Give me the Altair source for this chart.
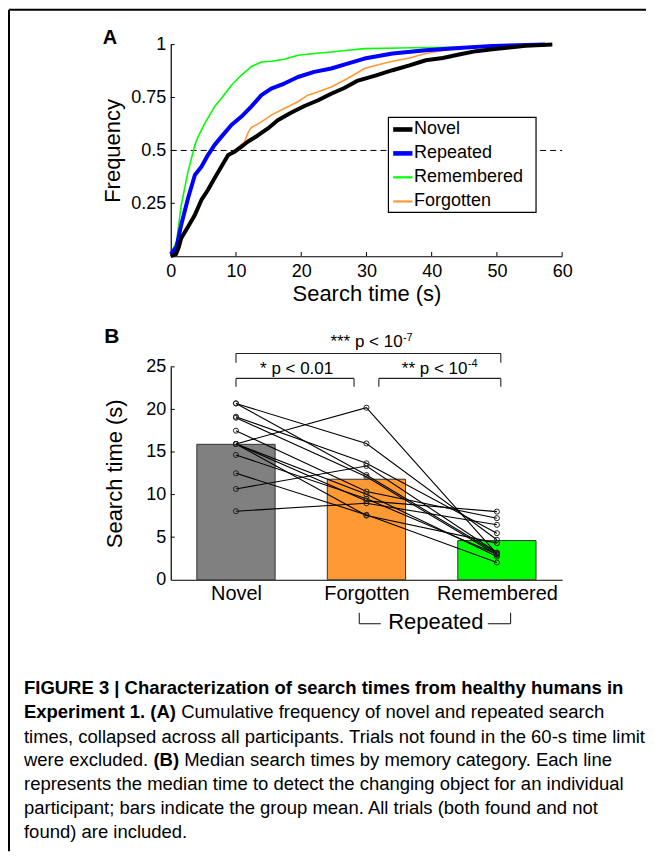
import altair as alt
import pandas as pd

# ---------------- Panel A data: cumulative frequency curves ----------------
series_names = ["Novel", "Repeated", "Remembered", "Forgotten"]

novel_t = [0, 0.8, 1.2, 1.6, 2.65, 3.7, 4.7, 5.7, 6.7, 7.75, 8.8, 9.8, 10.8, 11.8, 13.4, 14.9,
           16.4, 18.5, 20.5, 22.6, 24.6, 26.6, 28.7, 31.5, 34.0, 36.6, 39.1, 41.7, 44.2, 46.8,
           49.3, 51.9, 54.4, 58.5]
novel_f = [0.0, 0.01, 0.04, 0.085, 0.14, 0.195, 0.266, 0.313, 0.368, 0.423, 0.478, 0.494, 0.517,
           0.541, 0.572, 0.604, 0.643, 0.679, 0.71, 0.737, 0.768, 0.795, 0.83, 0.855, 0.879, 0.902,
           0.926, 0.937, 0.953, 0.969, 0.978, 0.986, 0.994, 1.0]

repeated_t = [0, 0.9, 1.6, 2.65, 3.7, 4.7, 5.7, 6.7, 7.75, 9.3, 10.8, 12.3, 13.9, 15.4, 17.4, 19.5,
              22.0, 24.6, 27.1, 29.7, 34.0, 39.1, 44.2, 49.3, 57.4]
repeated_f = [0.01, 0.045, 0.148, 0.274, 0.384, 0.423, 0.478, 0.525, 0.564, 0.62, 0.659, 0.706,
              0.761, 0.792, 0.816, 0.847, 0.871, 0.887, 0.91, 0.934, 0.958, 0.973, 0.984, 0.994, 1.0]

remembered_t = [0, 0.9, 1.6, 2.65, 3.7, 4.2, 5.2, 6.7, 7.75, 9.3, 10.8, 12.3, 13.9, 15.4, 17.4,
                19.5, 22.0, 24.6, 27.1, 29.7, 35, 40, 45, 50, 57]
remembered_f = [0.01, 0.07, 0.24, 0.40, 0.525, 0.565, 0.627, 0.706, 0.745, 0.808, 0.855, 0.895,
                0.918, 0.921, 0.931, 0.95, 0.958, 0.965, 0.973, 0.981, 0.984, 0.986, 0.989, 0.994, 1.0]

forgotten_t = [0, 1.0, 1.6, 2.65, 3.7, 4.7, 6.7, 8.8, 9.8, 11.3, 11.8, 12.3, 13.9, 15.4, 17.4, 19.5,
               21.0, 22.6, 24.6, 27.1, 29.7, 31.5, 34.0, 36.6, 39.1, 40.6, 44.2, 49.3, 57.4]
forgotten_f = [0.0, 0.03, 0.077, 0.14, 0.21, 0.266, 0.376, 0.47, 0.50, 0.54, 0.58, 0.607, 0.635,
               0.667, 0.698, 0.73, 0.761, 0.777, 0.80, 0.84, 0.887, 0.902, 0.921, 0.937, 0.958,
               0.966, 0.984, 0.994, 1.0]

x_ticks_a = [0, 10, 20, 30, 40, 50, 60]
y_ticks_a = [0.25, 0.5, 0.75, 1]
threshold = 0.5

# ---------------- Panel B data: median search times ----------------
categories = ["Novel", "Forgotten", "Remembered"]
group_means = [15.9, 11.8, 4.6]
novel_med = [20.7, 20.7, 19.14, 19.02, 17.5, 15.94, 15.94, 15.94, 15.94, 14.65, 12.5, 10.66, 8.05]
forgotten_med = [16.0, 12.3, 13.67, 12.1, 10.35, 20.2, 10.04, 9.26, 7.54, 9.5, 7.62, 13.36, 8.98]
remembered_med = [4.69, 3.12, 5.47, 2.93, 7.23, 3.05, 2.73, 8.0, 4.3, 3.0, 2.03, 3.2, 6.45]
y_ticks_b = [0, 5, 10, 15, 20, 25]

sig_labels = ["* p < 0.01", "** p < 10", "*** p < 10"]
sig_exponents = ["", "-4", "-7"]
group_label = "Repeated"

caption_title = "FIGURE 3 | Characterization of search times from healthy humans in"
caption_lines = [
    "times, collapsed across all participants. Trials not found in the 60-s time limit",
    "represents the median time to detect the changing object for an individual",
    "participant; bars indicate the group mean. All trials (both found and not",
    "found) are included.",
]
caption_l2_bold = "Experiment 1. (A)"
caption_l2_rest = "Cumulative frequency of novel and repeated search"
caption_l4_a = "were excluded."
caption_l4_bold = "(B)"
caption_l4_rest = "Median search times by memory category. Each line"

# ---------------- layout / style ----------------
FONT = "Liberation Sans"
W, H = 392, 536          # shared plot area (pixels)
A_H = 212                # panel A occupies rows 0..212
B_TOP = 322.7            # panel B y=25 row
styles = {
    "Novel": ("#000000", 4.0),
    "Repeated": ("#0000ff", 4.0),
    "Remembered": ("#00ff00", 1.6),
    "Forgotten": ("#ff9933", 1.6),
}

axis_common = dict(ticks=False, grid=False, labelFlush=False, domainColor="black",
                   domainWidth=1.2, labelColor="black", labelFont=FONT, titleFont=FONT,
                   titleFontSize=22, titleFontWeight="normal", titleColor="black")

ax_xa = alt.Axis(orient="bottom", offset=A_H - H, values=x_ticks_a, format="d", labelPadding=6,
                 labelFontSize=18, title="Search time (s)", titleY=44,
                 titleBaseline="alphabetic", **axis_common)
ax_ya = alt.Axis(orient="left", values=y_ticks_a, format=".2~f", labelPadding=5, labelFontSize=18,
                 title="Frequency", titleX=-51, titleY=A_H / 2, titleAngle=270,
                 titleBaseline="alphabetic", **axis_common)
cat_expr = "[" + ",".join("'%s'" % c for c in categories) + "][datum.value - 1]"
ax_xb = alt.Axis(orient="bottom", values=[1, 2, 3], labelExpr=cat_expr, labelPadding=4,
                 labelFontSize=20, title=None, **axis_common)
ax_yb = alt.Axis(orient="left", values=y_ticks_b, format="d", labelPadding=5, labelFontSize=18,
                 title="Search time (s)", titleX=-49, titleY=(H + B_TOP) / 2, titleAngle=270,
                 titleBaseline="alphabetic", **axis_common)

sc_xa = alt.Scale(domain=[0, 60])
sc_ya = alt.Scale(domain=[0, 1], range=[A_H, 0])
sc_xb = alt.Scale(domain=[0.5, 3.5])
sc_yb = alt.Scale(domain=[0, 25], range=[H, B_TOP])


def XA(f):
    return alt.X(f, type="quantitative", scale=sc_xa, axis=ax_xa)


def YA(f):
    return alt.Y(f, type="quantitative", scale=sc_ya, axis=ax_ya)


def XB(f):
    return alt.X(f, type="quantitative", scale=sc_xb, axis=ax_xb)


def YB(f):
    return alt.Y(f, type="quantitative", scale=sc_yb, axis=ax_yb)


# ---------------- Panel A ----------------
curve_rows = []
for name, ts, fs in [("Novel", novel_t, novel_f), ("Repeated", repeated_t, repeated_f),
                     ("Remembered", remembered_t, remembered_f),
                     ("Forgotten", forgotten_t, forgotten_f)]:
    for t, f in zip(ts, fs):
        curve_rows.append({"series": name, "x": t, "y": f})
curves = pd.DataFrame(curve_rows)

a_layers = []
a_layers.append(
    alt.Chart(pd.DataFrame({"x": [0, 60], "y": [threshold, threshold]}))
    .mark_line(color="black", strokeWidth=1, strokeDash=[6, 4])
    .encode(x=XA("x"), y=YA("y"))
)
for name in ["Remembered", "Forgotten", "Repeated", "Novel"]:
    col, sw = styles[name]
    a_layers.append(
        alt.Chart(curves).transform_filter(alt.datum.series == name)
        .mark_line(color=col, strokeWidth=sw, strokeJoin="round")
        .encode(x=XA("x"), y=YA("y"), order="x:Q")
    )

# legend (drawn inside panel A in data units)
lg_x0, lg_x1 = 33.37, 56.0
lg_y0, lg_y1 = 0.656, 0.2075
lg_rows = [0.599, 0.486, 0.373, 0.259]
a_layers.append(
    alt.Chart(pd.DataFrame({"x": [lg_x0], "x2": [lg_x1], "y": [lg_y0], "y2": [lg_y1]}))
    .mark_rect(fill="white", stroke="black", strokeWidth=1.2)
    .encode(x=XA("x"), x2=alt.X2("x2"), y=YA("y"), y2=alt.Y2("y2"))
)
for name, ry in zip(series_names, lg_rows):
    col, sw = styles[name]
    a_layers.append(
        alt.Chart(pd.DataFrame({"x": [34.1], "x2": [37.05], "y": [ry]}))
        .mark_rule(color=col, strokeWidth=sw + 0.6)
        .encode(x=XA("x"), x2=alt.X2("x2"), y=YA("y"))
    )
a_layers.append(
    alt.Chart(pd.DataFrame({"x": [37.3] * 4, "y": lg_rows, "label": series_names}))
    .mark_text(align="left", baseline="middle", font=FONT, fontSize=18, color="black")
    .encode(x=XA("x"), y=YA("y"), text="label:N")
)
# inward tick marks
a_layers.append(
    alt.Chart(pd.DataFrame({"x": x_ticks_a[1:], "y": [0] * 6, "y2": [0.02] * 6}))
    .mark_rule(color="black", strokeWidth=1)
    .encode(x=XA("x"), y=YA("y"), y2=alt.Y2("y2"))
)
a_layers.append(
    alt.Chart(pd.DataFrame({"x": [0] * 4, "x2": [0.6] * 4, "y": y_ticks_a}))
    .mark_rule(color="black", strokeWidth=1)
    .encode(x=XA("x"), x2=alt.X2("x2"), y=YA("y"))
)
panel_a = alt.layer(*a_layers)

# ---------------- Panel B ----------------
bars = pd.DataFrame({"cat": categories, "bx": [1, 2, 3], "by": group_means})
pts_rows = []
for pid, (n, f, r) in enumerate(zip(novel_med, forgotten_med, remembered_med)):
    pts_rows += [{"pid": pid, "bx": 1, "by": n}, {"pid": pid, "bx": 2, "by": f},
                 {"pid": pid, "bx": 3, "by": r}]
pts = pd.DataFrame(pts_rows)

b_layers = []
b_layers.append(
    alt.Chart(bars)
    .transform_calculate(lo="datum.bx - 0.3", hi="datum.bx + 0.3", base="0")
    .mark_rect(stroke="#333333", strokeWidth=1)
    .encode(x=XB("lo"), x2=alt.X2("hi"), y=YB("by"), y2=alt.Y2("base"),
            color=alt.Color("cat:N", scale=alt.Scale(domain=categories,
                                                     range=["#808080", "#ff9933", "#00ff00"]),
                            legend=None))
)
b_layers.append(
    alt.Chart(pts).mark_line(color="black", strokeWidth=1.1)
    .encode(x=XB("bx"), y=YB("by"), detail="pid:N", order="bx:Q")
)
b_layers.append(
    alt.Chart(pts).mark_point(shape="circle", filled=False, color="#222222", size=26,
                              strokeWidth=1, opacity=1)
    .encode(x=XB("bx"), y=YB("by"))
)
# significance brackets
seg = []
for (xl, xr, yh, yl) in [(1.0, 1.905, 23.64, 22.66), (2.095, 3.03, 23.64, 22.66),
                         (1.0, 3.03, 26.57, 25.47)]:
    seg += [(xl, yl, xl, yh), (xl, yh, xr, yh), (xr, yh, xr, yl)]
# "Repeated" grouping bracket under the axis
for (x1, y1, x2, y2) in [(1.945, -3.87, 1.945, -5.16), (1.945, -5.16, 2.11, -5.16),
                         (2.93, -5.16, 3.105, -5.16), (3.105, -5.16, 3.105, -3.87)]:
    seg.append((x1, y1, x2, y2))
segdf = pd.DataFrame(seg, columns=["bx", "by", "bx2", "by2"])
b_layers.append(
    alt.Chart(segdf).mark_rule(color="#222222", strokeWidth=1.1)
    .encode(x=XB("bx"), y=YB("by"), x2=alt.X2("bx2"), y2=alt.Y2("by2"))
)
b_layers.append(
    alt.Chart(pd.DataFrame({"bx": [1.465], "by": [24.2], "label": [sig_labels[0]]}))
    .mark_text(align="center", baseline="alphabetic", font=FONT, fontSize=17, color="black")
    .encode(x=XB("bx"), y=YB("by"), text="label:N")
)
b_layers.append(
    alt.Chart(pd.DataFrame({"bx": [2.774, 2.277], "by": [24.2, 27.3], "label": sig_labels[1:]}))
    .mark_text(align="right", baseline="alphabetic", font=FONT, fontSize=17, color="black")
    .encode(x=XB("bx"), y=YB("by"), text="label:N")
)
b_layers.append(
    alt.Chart(pd.DataFrame({"bx": [2.777, 2.28], "by": [25.02, 28.0], "label": sig_exponents[1:]}))
    .mark_text(align="left", baseline="alphabetic", font=FONT, fontSize=11, color="black")
    .encode(x=XB("bx"), y=YB("by"), text="label:N")
)
b_layers.append(
    alt.Chart(pd.DataFrame({"bx": [2.532], "by": [-5.78], "label": [group_label]}))
    .mark_text(align="center", baseline="alphabetic", font=FONT, fontSize=22, color="black")
    .encode(x=XB("bx"), y=YB("by"), text="label:N")
)
b_layers.append(
    alt.Chart(pd.DataFrame({"bx": [0.5] * 5, "bx2": [0.53] * 5, "by": y_ticks_b[1:]}))
    .mark_rule(color="black", strokeWidth=1)
    .encode(x=XB("bx"), x2=alt.X2("bx2"), y=YB("by"))
)
panel_b = alt.layer(*b_layers)

# ---------------- annotations: frame, panel letters, caption ----------------
one = pd.DataFrame({"k": [0]})


def txt(s, x, y, size, bold=False, baseline="alphabetic", align="left"):
    return (alt.Chart(pd.DataFrame({"s": [s]}))
            .mark_text(align=align, baseline=baseline, font=FONT, fontSize=size,
                       fontWeight="bold" if bold else "normal", color="black")
            .encode(text="s:N", x=alt.value(x), y=alt.value(y)))


ann = [
    alt.Chart(one).mark_rule(color="black", strokeWidth=2)
    .encode(x=alt.value(-162), x2=alt.value(476), y=alt.value(-35)),
    alt.Chart(one).mark_rule(color="black", strokeWidth=2)
    .encode(x=alt.value(-162), y=alt.value(-35), y2=alt.value(808)),
    txt("A", -61, -0.7, 20, bold=True, align="center"),
    txt("B", -59, 299.3, 21, bold=True, align="center"),
]
CX = -147
cap_y = [644, 668, 693, 717, 741, 765, 789]
CS = 18.5
ann.append(txt(caption_title, CX, cap_y[0], CS, bold=True, baseline="middle"))
ann.append(txt(caption_l2_bold, CX, cap_y[1], CS, bold=True, baseline="middle"))
ann.append(txt(caption_l2_rest, 10.5, cap_y[1], CS, baseline="middle"))
ann.append(txt(caption_lines[0], CX, cap_y[2], CS, baseline="middle"))
ann.append(txt(caption_l4_a, CX, cap_y[3], CS, baseline="middle"))
ann.append(txt(caption_l4_bold, -17.3, cap_y[3], CS, bold=True, baseline="middle"))
ann.append(txt(caption_l4_rest, 13.5, cap_y[3], CS, baseline="middle"))
for s, yy in zip(caption_lines[1:], cap_y[4:]):
    ann.append(txt(s, CX, yy, CS, baseline="middle"))
annot = alt.layer(*ann)

chart = (
    alt.layer(panel_a, panel_b, annot)
    .resolve_scale(x="independent", y="independent")
    .properties(width=W, height=H, padding=0, background="white")
    .configure_view(stroke=None)
)
chart.save("out.html", embed_options={"renderer": "svg", "actions": False})
